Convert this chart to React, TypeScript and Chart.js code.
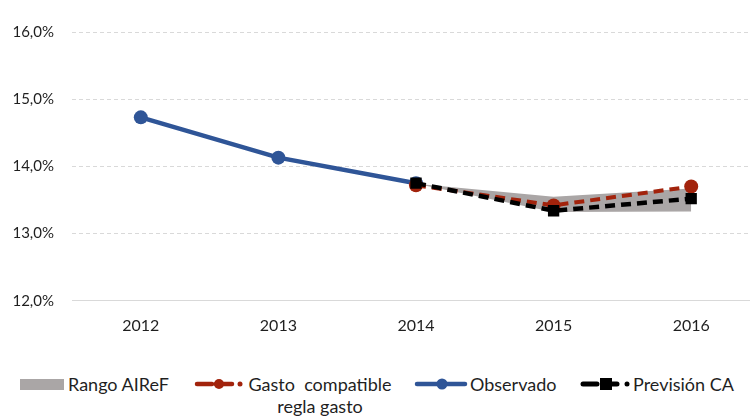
import React, { useEffect, useRef } from "react";
import { Chart, registerables } from "chart.js";

Chart.register(...registerables);

const years = ["2012", "2013", "2014", "2015", "2016"];
const observado = [14.73, 14.13, 13.75, null, null];
const gastoCompatible = [null, null, 13.72, 13.42, 13.7];
const prevision = [null, null, 13.75, 13.34, 13.52];
const rangoMin = [null, null, 13.74, 13.32, 13.33];
const rangoMax = [null, null, 13.74, 13.55, 13.67];
const yMin = 12;
const yMax = 16;
const yStep = 1;

const BLUE = "#2F5597";
const RED = "#A2230C";
const BLACK = "#000000";
const GRAY = "#AAA6A6";
const TEXT = "#1f1f1f";
const FONT = "Lato, 'Open Sans', sans-serif";

export default function App() {
  const ref = useRef<HTMLCanvasElement | null>(null);

  useEffect(() => {
    if (!ref.current) return;
    const chart = new Chart(ref.current, {
      type: "line",
      data: {
        labels: years,
        datasets: [
          {
            label: "rangoMin",
            data: rangoMin,
            borderWidth: 0,
            pointRadius: 0,
            borderColor: "rgba(0,0,0,0)",
            fill: false,
            order: 4,
          },
          {
            label: "Rango AIReF",
            data: rangoMax,
            borderWidth: 0,
            pointRadius: 0,
            borderColor: "rgba(0,0,0,0)",
            backgroundColor: GRAY,
            fill: "-1",
            order: 3,
          },
          {
            label: "Observado",
            data: observado,
            borderColor: BLUE,
            backgroundColor: BLUE,
            borderWidth: 4.5,
            pointRadius: 7,
            pointBorderWidth: 0,
            pointBackgroundColor: BLUE,
            fill: false,
            order: 2,
          },
          {
            label: "Gasto compatible regla gasto",
            data: gastoCompatible,
            borderColor: RED,
            backgroundColor: RED,
            borderWidth: 4,
            borderDash: [10, 6],
            pointRadius: 7,
            pointBorderWidth: 0,
            pointBackgroundColor: RED,
            fill: false,
            order: 1,
          },
          {
            label: "Previsión CA",
            data: prevision,
            borderColor: BLACK,
            backgroundColor: BLACK,
            borderWidth: 4.5,
            borderDash: [10, 6],
            pointStyle: "rect",
            pointRadius: 8,
            pointBorderWidth: 0,
            pointBackgroundColor: BLACK,
            fill: false,
            order: 0,
          },
        ],
      },
      options: {
        responsive: false,
        animation: false,
        devicePixelRatio: 1,
        layout: { padding: { top: 32, left: 0, right: 4, bottom: 10 } },
        plugins: {
          legend: { display: false },
          tooltip: { enabled: false },
        },
        scales: {
          x: {
            type: "category",
            offset: true,
            grid: { display: false, drawTicks: false },
            border: { display: true, color: "#D9D9D9", width: 1 },
            ticks: {
              color: TEXT,
              font: { family: FONT, size: 16 },
              padding: 15,
            },
          },
          y: {
            min: yMin,
            max: yMax,
            grid: { color: "#D9D9D9", lineWidth: 1, drawTicks: false },
            border: { display: false, dash: [4, 3] },
            ticks: {
              stepSize: yStep,
              color: TEXT,
              font: { family: FONT, size: 15 },
              padding: 18,
              callback: (v: any) => Number(v).toFixed(1).replace(".", ",") + "%",
            },
            afterFit: (scale: any) => {
              scale.width = 72;
            },
          },
        },
      },
    });
    return () => chart.destroy();
  }, []);

  const legendText: React.CSSProperties = {
    position: "absolute",
    fontFamily: FONT,
    fontSize: 18,
    color: TEXT,
    lineHeight: "22px",
    whiteSpace: "pre",
  };

  return (
    <div
      style={{
        position: "fixed",
        left: 0,
        top: 0,
        width: 750,
        height: 417,
        overflow: "hidden",
        background: "#fff",
      }}
    >
      <canvas ref={ref} width={768} height={360} style={{ display: "block" }} />
      <div style={{ position: "absolute", left: 20, top: 379, width: 44, height: 11, background: GRAY }} />
      <div style={{ ...legendText, left: 68, top: 373 }}>Rango AIReF</div>

      <svg style={{ position: "absolute", left: 190, top: 376 }} width={56} height={16}>
        <line x1={7} y1={8} x2={22} y2={8} stroke={RED} strokeWidth={4.5} strokeLinecap="round" />
        <line x1={26} y1={8} x2={42} y2={8} stroke={RED} strokeWidth={4.5} strokeLinecap="round" />
        <circle cx={29} cy={8} r={5} fill={RED} />
        <circle cx={50} cy={8} r={2.5} fill={RED} />
      </svg>
      <div style={{ ...legendText, left: 244, top: 373, width: 152, textAlign: "center" }}>
        {"Gasto  compatible"}
        <br />
        {"regla gasto"}
      </div>

      <svg style={{ position: "absolute", left: 412, top: 376 }} width={60} height={16}>
        <line x1={5} y1={8} x2={53} y2={8} stroke={BLUE} strokeWidth={4.5} strokeLinecap="round" />
        <circle cx={30} cy={8} r={5.5} fill={BLUE} />
      </svg>
      <div style={{ ...legendText, left: 470, top: 373 }}>Observado</div>

      <svg style={{ position: "absolute", left: 576, top: 376 }} width={56} height={16}>
        <line x1={7} y1={8} x2={21} y2={8} stroke={BLACK} strokeWidth={5} strokeLinecap="round" />
        <line x1={30} y1={8} x2={41} y2={8} stroke={BLACK} strokeWidth={5} strokeLinecap="round" />
        <rect x={24} y={2} width={12} height={12} fill={BLACK} />
        <circle cx={51} cy={8} r={2.5} fill={BLACK} />
      </svg>
      <div style={{ ...legendText, left: 633, top: 373 }}>Previsión CA</div>
    </div>
  );
}
